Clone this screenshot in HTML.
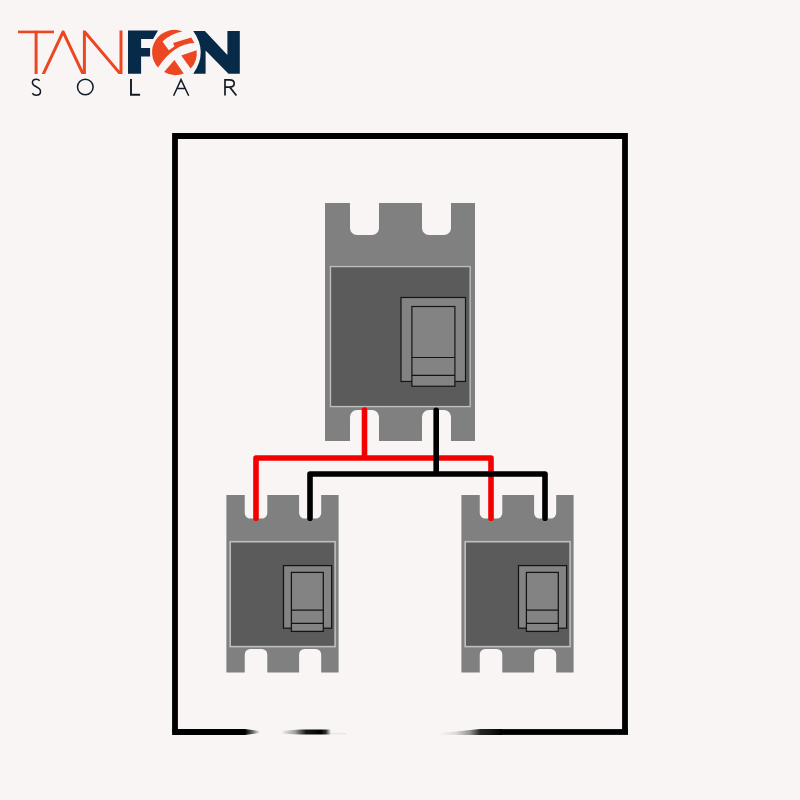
<!DOCTYPE html>
<html><head><meta charset="utf-8"><style>
html,body{margin:0;padding:0;background:#f8f5f4;width:800px;height:800px;overflow:hidden;font-family:"Liberation Sans",sans-serif;}
svg{display:block;position:absolute;left:0;top:0}
</style></head><body>
<svg width="800" height="800" viewBox="0 0 800 800">
<rect width="800" height="800" fill="#f8f5f4"/>

<defs><clipPath id="tanclip"><rect x="0" y="30.55" width="127" height="43.45"/></clipPath></defs>
<g fill="none" stroke="#ec4722" stroke-width="3" stroke-linejoin="miter" stroke-miterlimit="20" clip-path="url(#tanclip)">
<path d="M18,31.85 H54 M36.1,30 V76"/>
<path d="M41.2,78.5 L63.1,31.8 L84.4,77 V31.5 L121,74.6 V28"/>
</g>
<g fill="#ec4722">
<path d="M182.5,31.4 A22.3,22.3 0 0 0 158.1,67.4 Q173.75,43.8 194.4,43 L191.25,37.4 L173.1,43 L174.4,46.4 L168.75,50.2 L162.5,41.4 Q171.5,33.2 182.5,31.4 Z"/>
<path d="M174.4,59.9 L164.1,72.1 A22.3,22.3 0 0 0 183.75,73.6 Z"/>
<path d="M181.25,55.5 L196.6,50.2 A22.3,22.3 0 0 1 190.6,68.6 Z"/>
</g>
<g fill="#062a47">
<path d="M128,30.6 H158 L153.1,38.9 H141.1 V47.9 H150.1 V56.5 H141.1 V73.8 H128 Z"/>
<path d="M193.25,31 H204.9 L227.4,55 V31 H239.8 V73.75 H228.5 L205.6,50.5 V73.75 H193.25 Q208.25,52.4 193.25,31 Z"/>
</g>
<g fill="none" stroke="#121b26" stroke-width="1.5">
<path d="M39.6,80.7 C38.8,79.7 37.6,79.3 36.4,79.3 C34,79.3 32.4,80.8 32.4,82.8 C32.4,84.9 34.1,85.8 36.3,86.8 C38.9,88 40.5,89 40.5,91.4 C40.5,93.7 38.6,95.2 36.2,95.2 C34.6,95.2 33.2,94.5 32.3,93.2"/>
<circle cx="85.3" cy="87.05" r="7.8"/>
<path d="M131,79 V94.8 H140.1" stroke-width="1.9"/>
<path d="M173.6,95.8 L181,79.6 L188.7,95.8 M176.6,88.6 H185.4"/>
<path d="M225,95.6 V79.9 H229.5 C232.5,79.9 234.2,81.3 234.2,83.5 C234.2,85.7 232.5,87.1 229.5,87.1 H225 M229.8,87.1 L236.4,95.5" stroke-width="1.7"/>
</g>


<defs>
<linearGradient id="g1" x1="172" x2="260" y1="0" y2="0" gradientUnits="userSpaceOnUse">
<stop offset="0" stop-color="#000"/><stop offset="0.83" stop-color="#000"/><stop offset="0.92" stop-color="#000" stop-opacity="0.55"/><stop offset="1" stop-color="#000" stop-opacity="0"/></linearGradient>
<linearGradient id="g2" x1="281" x2="331" y1="0" y2="0" gradientUnits="userSpaceOnUse">
<stop offset="0" stop-color="#000" stop-opacity="0"/><stop offset="0.28" stop-color="#000" stop-opacity="0.35"/><stop offset="0.5" stop-color="#000" stop-opacity="0.9"/><stop offset="0.8" stop-color="#000" stop-opacity="1"/><stop offset="0.9" stop-color="#000" stop-opacity="0.8"/><stop offset="1" stop-color="#000" stop-opacity="0"/></linearGradient>
<linearGradient id="g3" x1="438" x2="502" y1="0" y2="0" gradientUnits="userSpaceOnUse">
<stop offset="0" stop-color="#000" stop-opacity="0"/><stop offset="0.27" stop-color="#000" stop-opacity="0.1"/><stop offset="0.5" stop-color="#000" stop-opacity="0.4"/><stop offset="0.66" stop-color="#000" stop-opacity="0.85"/><stop offset="0.82" stop-color="#000" stop-opacity="0.9"/><stop offset="1" stop-color="#000" stop-opacity="1"/></linearGradient>
</defs>
<path d="M175,732 V136 H625 V732" fill="none" stroke="#000" stroke-width="5.8" stroke-linejoin="miter"/>
<path d="M172.1,729.1 H245 L260,731 V733 L245,734.9 H172.1 Z" fill="url(#g1)"/>
<path d="M281,731 L300,729.6 H331 V734.5 H300 L281,733.8 Z" fill="url(#g2)"/>
<rect x="328" y="732.8" width="18" height="1.6" fill="#000" fill-opacity="0.06"/>
<path d="M438,733.2 L480,729.1 H502 V734.9 H438 Z" fill="url(#g3)"/>
<rect x="502" y="729.1" width="126" height="5.8" fill="#000"/>

<path d="M325,203 H350 V228 A7,7 0 0 0 357,235 H372 A7,7 0 0 0 379,228 V203 H422 V228 A7,7 0 0 0 429,235 H444 A7,7 0 0 0 451,228 V203 H475 V441 H451 V417 A7,7 0 0 0 444,410 H429 A7,7 0 0 0 422,417 V441 H379 V417 A7,7 0 0 0 372,410 H357 A7,7 0 0 0 350,417 V441 H325 Z" fill="#808080"/>
<rect x="330.48" y="266.57" width="139.65" height="140" fill="#5b5b5b" stroke="#bebebe" stroke-width="1.35"/>
<rect x="401" y="297.5" width="64.5" height="83.95" fill="#838383" stroke="#141414" stroke-width="1.2"/>
<rect x="411.9" y="306.5" width="43" height="79.75" fill="#838383" stroke="#141414" stroke-width="1.2"/>
<line x1="411.9" y1="357.5" x2="454.9" y2="357.5" stroke="#141414" stroke-width="1.2"/>
<line x1="411.9" y1="375.45" x2="454.9" y2="375.45" stroke="#141414" stroke-width="1.2"/>
<path d="M226.4,495.1 H244.75 V513 A5.5,5.5 0 0 0 250.25,518.5 H261.8 A5.5,5.5 0 0 0 267.3,513 V495.1 H299.1 V513 A5.5,5.5 0 0 0 304.6,518.5 H315.7 A5.5,5.5 0 0 0 321.2,513 V495.1 H338.6 V672.5 H321.2 V654.4 A5.5,5.5 0 0 0 315.7,648.9 H304.6 A5.5,5.5 0 0 0 299.1,654.4 V672.5 H267.3 V654.4 A5.5,5.5 0 0 0 261.8,648.9 H250.25 A5.5,5.5 0 0 0 244.75,654.4 V672.5 H226.4 Z" fill="#808080"/>
<rect x="230.2" y="541.7" width="104.9" height="104.9" fill="#5b5b5b" stroke="#bebebe" stroke-width="1.6"/>
<rect x="283.5" y="565.6" width="48.1" height="62.6" fill="#838383" stroke="#141414" stroke-width="1.25"/>
<rect x="291.4" y="572.4" width="31.9" height="59" fill="#838383" stroke="#141414" stroke-width="1.25"/>
<line x1="291.4" y1="610.1" x2="323.3" y2="610.1" stroke="#141414" stroke-width="1.25"/>
<line x1="291.4" y1="623.4" x2="323.3" y2="623.4" stroke="#141414" stroke-width="1.25"/>
<path d="M461.4,495.1 H479.75 V513 A5.5,5.5 0 0 0 485.25,518.5 H496.8 A5.5,5.5 0 0 0 502.3,513 V495.1 H534.1 V513 A5.5,5.5 0 0 0 539.6,518.5 H550.7 A5.5,5.5 0 0 0 556.2,513 V495.1 H573.6 V672.5 H556.2 V654.4 A5.5,5.5 0 0 0 550.7,648.9 H539.6 A5.5,5.5 0 0 0 534.1,654.4 V672.5 H502.3 V654.4 A5.5,5.5 0 0 0 496.8,648.9 H485.25 A5.5,5.5 0 0 0 479.75,654.4 V672.5 H461.4 Z" fill="#808080"/>
<rect x="465.2" y="541.7" width="104.9" height="104.9" fill="#5b5b5b" stroke="#bebebe" stroke-width="1.6"/>
<rect x="518.5" y="565.6" width="48.1" height="62.6" fill="#838383" stroke="#141414" stroke-width="1.25"/>
<rect x="526.4" y="572.4" width="31.9" height="59" fill="#838383" stroke="#141414" stroke-width="1.25"/>
<line x1="526.4" y1="610.1" x2="558.3" y2="610.1" stroke="#141414" stroke-width="1.25"/>
<line x1="526.4" y1="623.4" x2="558.3" y2="623.4" stroke="#141414" stroke-width="1.25"/>

<path d="M364.5,410 V458 M256,518.3 V458 H491 V518.3" fill="none" stroke="#f40000" stroke-width="5.6" stroke-linejoin="round" stroke-linecap="round"/>
<path d="M436.2,410.2 V474 M310,518.3 V474 H545 V518.3" fill="none" stroke="#000" stroke-width="5.6" stroke-linejoin="round" stroke-linecap="round"/>

</svg>
</body></html>
